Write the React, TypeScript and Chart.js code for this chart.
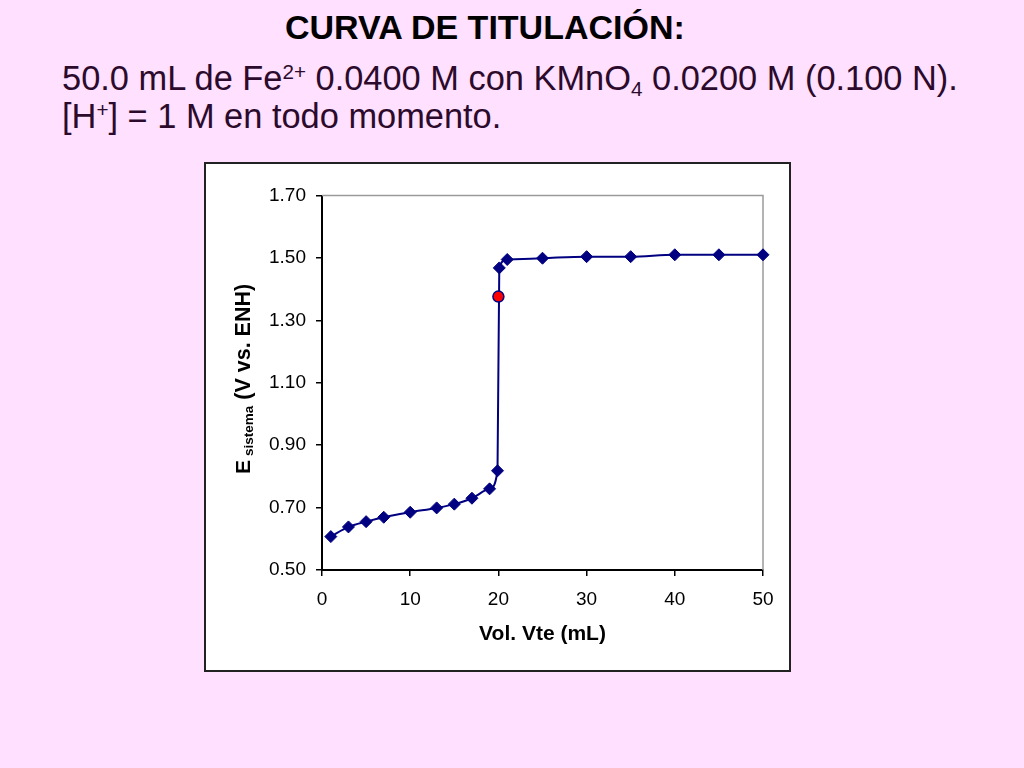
import { useEffect, useRef } from 'react';
import { Chart, registerables } from 'chart.js';

Chart.register(...registerables);

const FONT = '"Liberation Sans", Arial, Helvetica, sans-serif';

// titrant volume (mL) and cell potential (V vs. ENH)
const volumes = [1, 3, 5, 7, 10, 13, 15, 17, 19, 19.9, 20.1, 21, 25, 30, 35, 40, 45, 50];
const potentials = [
  0.607, 0.638, 0.655, 0.669, 0.685, 0.699, 0.711, 0.73, 0.76, 0.818,
  1.468, 1.495, 1.499, 1.504, 1.504, 1.51, 1.51, 1.51,
];

// equivalence point
const eqVolume = [20];
const eqPotential = [1.376];

const xTicks = [0, 10, 20, 30, 40, 50];
const yTicks = [0.5, 0.7, 0.9, 1.1, 1.3, 1.5, 1.7];

const NAVY = '#000080';

// gray top/right border of the plot area
const plotFrame = {
  id: 'plotFrame',
  beforeDatasetsDraw(chart: any) {
    const { ctx, chartArea } = chart;
    ctx.save();
    ctx.strokeStyle = '#9a9a9a';
    ctx.lineWidth = 1.5;
    ctx.beginPath();
    ctx.moveTo(chartArea.left, chartArea.top);
    ctx.lineTo(chartArea.right, chartArea.top);
    ctx.lineTo(chartArea.right, chartArea.bottom);
    ctx.stroke();
    ctx.restore();
  },
};

// y title with subscript: "E sistema (V vs. ENH)"
const yTitle = {
  id: 'yTitle',
  afterDraw(chart: any) {
    const { ctx } = chart;
    ctx.save();
    ctx.translate(44, 310);
    ctx.rotate(-Math.PI / 2);
    ctx.fillStyle = '#000';
    ctx.textAlign = 'left';
    ctx.textBaseline = 'alphabetic';
    let x = 0;
    ctx.font = `bold 21px ${FONT}`;
    ctx.fillText('E', x, 0);
    x += ctx.measureText('E').width + 4;
    ctx.font = `bold 13.5px ${FONT}`;
    ctx.fillText('sistema', x, 3);
    x += ctx.measureText('sistema').width;
    ctx.font = `bold 21.5px ${FONT}`;
    ctx.fillText(' (V vs. ENH)', x, 0);
    ctx.restore();
  },
};

const TitrationChart = () => {
  const chartRef = useRef<HTMLCanvasElement>(null);
  const chartInstance = useRef<Chart | null>(null);

  useEffect(() => {
    if (!chartRef.current) return;

    if (chartInstance.current) {
      chartInstance.current.destroy();
    }

    chartInstance.current = new Chart(chartRef.current, {
      type: 'line',
      data: {
        datasets: [
          {
            label: 'E sistema',
            data: volumes.map((v, i) => ({ x: v, y: potentials[i] })),
            borderColor: NAVY,
            backgroundColor: NAVY,
            borderWidth: 2,
            pointStyle: 'rectRot',
            pointRadius: 6,
            pointBorderWidth: 1,
            pointBorderColor: NAVY,
            pointBackgroundColor: NAVY,
            cubicInterpolationMode: 'monotone',
            clip: false,
            order: 2,
          },
          {
            label: 'Punto de equivalencia',
            data: eqVolume.map((v, i) => ({ x: v, y: eqPotential[i] })),
            showLine: false,
            pointStyle: 'circle',
            pointRadius: 5.5,
            pointBorderWidth: 1.5,
            pointBorderColor: NAVY,
            pointBackgroundColor: '#ff0000',
            clip: false,
            order: 1,
          },
        ],
      },
      options: {
        animation: false,
        responsive: true,
        maintainAspectRatio: false,
        layout: { padding: { top: 31.5, right: 26, left: 0, bottom: 0 } },
        plugins: {
          legend: { display: false },
          tooltip: { enabled: false },
        },
        scales: {
          x: {
            type: 'linear',
            min: 0,
            max: 50,
            afterBuildTicks: (s: any) => {
              s.ticks = xTicks.map((value) => ({ value }));
            },
            afterFit: (s: any) => {
              s.height = 100;
            },
            ticks: {
              color: '#000',
              font: { family: FONT, size: 19 },
              padding: 12,
              maxRotation: 0,
            },
            grid: { drawOnChartArea: false, tickLength: 6, color: '#000', lineWidth: 1.5 },
            border: { color: '#000', width: 2 },
            title: {
              display: true,
              text: 'Vol. Vte (mL)',
              color: '#000',
              font: { family: FONT, size: 21, weight: 'bold' },
              padding: { top: 0, bottom: 23 },
            },
          },
          y: {
            type: 'linear',
            min: 0.5,
            max: 1.7,
            afterBuildTicks: (s: any) => {
              s.ticks = yTicks.map((value) => ({ value }));
            },
            afterFit: (s: any) => {
              s.width = 116;
            },
            ticks: {
              color: '#000',
              font: { family: FONT, size: 19 },
              padding: 10,
              callback: (v: any) => Number(v).toFixed(2),
            },
            grid: { drawOnChartArea: false, tickLength: 6, color: '#000', lineWidth: 1.5 },
            border: { color: '#000', width: 2 },
          },
        },
      },
      plugins: [plotFrame, yTitle],
    } as any);

    return () => {
      if (chartInstance.current) {
        chartInstance.current.destroy();
        chartInstance.current = null;
      }
    };
  }, []);

  return (
    <div
      style={{
        position: 'absolute',
        left: 204,
        top: 162,
        width: 587,
        height: 510,
        boxSizing: 'border-box',
        border: '2px solid #222',
        background: '#fff',
      }}
    >
      <div style={{ position: 'relative', width: 583, height: 506 }}>
        <canvas ref={chartRef} />
      </div>
    </div>
  );
};

const sup = { fontSize: '0.6em', position: 'relative' as const, top: '-11px' };
const sub = { fontSize: '0.6em', position: 'relative' as const, top: '6px' };

export default function App() {
  return (
    <div
      style={{
        position: 'fixed',
        left: 0,
        top: 0,
        width: 1024,
        height: 768,
        background: '#ffe0ff',
        fontFamily: FONT,
        overflow: 'hidden',
      }}
    >
      <div
        style={{
          position: 'absolute',
          left: 285,
          top: 10,
          fontSize: 34,
          lineHeight: '34px',
          fontWeight: 'bold',
          color: '#000',
          whiteSpace: 'nowrap',
        }}
      >
        CURVA DE TITULACIÓN:
      </div>
      <div
        style={{
          position: 'absolute',
          left: 62,
          top: 61,
          fontSize: 34.4,
          lineHeight: '34px',
          color: '#2b0a2b',
          whiteSpace: 'nowrap',
        }}
      >
        50.0 mL de Fe<span style={sup}>2+</span> 0.0400 M con KMnO<span style={sub}>4</span> 0.0200 M (0.100 N).
      </div>
      <div
        style={{
          position: 'absolute',
          left: 62,
          top: 99,
          fontSize: 34.4,
          lineHeight: '34px',
          color: '#2b0a2b',
          whiteSpace: 'nowrap',
        }}
      >
        [H<span style={sup}>+</span>] = 1 M en todo momento.
      </div>
      <TitrationChart />
    </div>
  );
}
